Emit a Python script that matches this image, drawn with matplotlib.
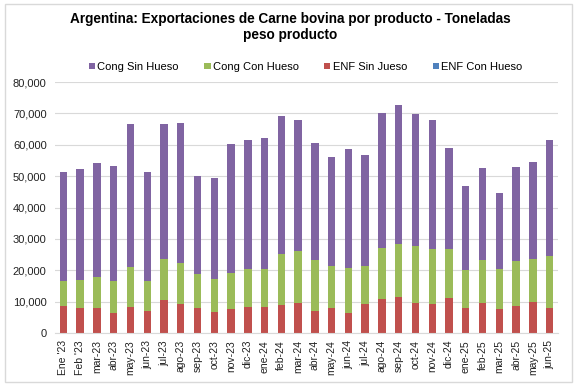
import matplotlib
matplotlib.use("Agg")
import matplotlib.pyplot as plt
from matplotlib.patches import Rectangle
import numpy as np

plt.rcParams["font.family"] = ["Liberation Sans", "DejaVu Sans"]

# Monthly data (tonnes, product weight)
months = ["Ene '23", "Feb '23", "mar-23", "abr-23", "may-23", "jun-23", "jul-23", "ago-23",
          "sep-23", "oct-23", "nov-23", "dic-23", "ene-24", "feb-24", "mar-24", "abr-24",
          "may-24", "jun-24", "jul-24", "ago-24", "sep-24", "oct-24", "nov-24", "dic-24",
          "ene-25", "feb-25", "mar-25", "abr-25", "may-25", "jun-25"]

enf_con_hueso = [0] * 30
enf_sin_hueso = [8700, 7900, 7900, 6500, 8200, 6900, 10500, 9100, 8000, 6800, 7500, 8200,
                 8200, 8900, 9500, 6900, 8000, 6300, 9100, 10700, 11400, 9500, 9100, 11100,
                 7900, 9500, 7700, 8700, 9900, 7900]
cong_con_hueso = [8000, 9100, 9800, 10100, 12700, 9800, 13000, 13200, 10800, 10500, 11600, 12300,
                  12300, 16300, 16600, 16400, 13500, 14300, 12400, 16400, 17100, 18100, 17800, 15600,
                  12100, 13900, 12800, 14300, 13800, 16600]
cong_sin_hueso = [34600, 35300, 36400, 36600, 45600, 34700, 43200, 44700, 31100, 32000, 41200, 41000,
                  41500, 43900, 41900, 37200, 34500, 38200, 35100, 43000, 44300, 42100, 40900, 32300,
                  26800, 29100, 24100, 30000, 30900, 37000]

x = np.arange(len(months))
w = 0.44

fig = plt.figure(figsize=(5.8, 3.89), dpi=100)
ax = fig.add_axes([55 / 580, 1 - 333 / 389, 503 / 580, 251 / 389])

b1 = ax.bar(x, enf_con_hueso, w, color="#4F81BD", zorder=2)
bottom = np.array(enf_con_hueso)
b2 = ax.bar(x, enf_sin_hueso, w, bottom=bottom, color="#C0504D", zorder=2)
bottom = bottom + np.array(enf_sin_hueso)
b3 = ax.bar(x, cong_con_hueso, w, bottom=bottom, color="#9BBB59", zorder=2)
bottom = bottom + np.array(cong_con_hueso)
b4 = ax.bar(x, cong_sin_hueso, w, bottom=bottom, color="#8064A2", zorder=2)

ax.set_ylim(0, 80000)
ax.set_yticks(range(0, 80001, 10000))
ax.set_yticklabels([f"{v:,}" for v in range(0, 80001, 10000)], fontsize=8, color="#222222")
ax.set_xlim(-0.5, len(months) - 0.5)
ax.set_xticks(x)
ax.set_xticklabels(months, rotation=90, fontsize=7.5, color="#222222")
ax.tick_params(length=0)
ax.tick_params(axis="y", pad=6)
ax.tick_params(axis="x", pad=5)
ax.yaxis.grid(True, color="#D9D9D9", linewidth=0.8, zorder=0)
for s in ["top", "right", "left"]:
    ax.spines[s].set_visible(False)
ax.spines["bottom"].set_color("#D9D9D9")

fig.text(0.5, 1 - 27 / 389, "Argentina: Exportaciones de Carne bovina por producto - Toneladas\npeso producto",
         ha="center", va="center", multialignment="center", fontsize=9.8, fontweight="bold",
         linespacing=1.15)

fig.legend([b4, b3, b2, b1], ["Cong Sin Hueso", "Cong Con Hueso", "ENF Sin Jueso", "ENF Con Hueso"],
           loc="center", bbox_to_anchor=(0.527, 1 - 67 / 389), ncol=4, frameon=False, fontsize=8,
           handlelength=0.55, handleheight=0.55, handletextpad=0.2, columnspacing=2.3)

fig.patches.append(Rectangle((5 / 580, 7 / 389), 567 / 580, 378 / 389, transform=fig.transFigure,
                             fill=False, edgecolor="#D9D9D9", linewidth=1))

plt.savefig("out.png")
